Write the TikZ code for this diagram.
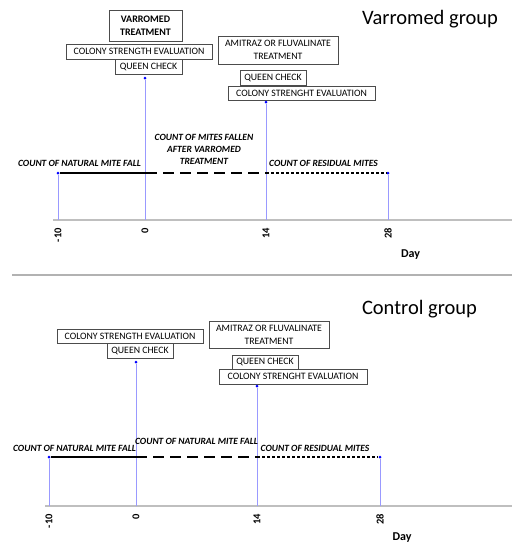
\documentclass[tikz,border=0pt]{standalone}
\usepackage{fontspec}
\setmainfont{Carlito}
\usepackage{tikz}

\tikzset{
  evbox/.style={draw=black!70,fill=white,inner sep=1.5pt,font=\fontsize{9.8}{13}\selectfont},
  countlbl/.style={inner sep=0pt,font=\fontsize{9.5}{12}\selectfont\bfseries\itshape,align=center},
  ticklbl/.style={rotate=90,anchor=east,inner sep=0pt,font=\fontsize{10.5}{11}\selectfont\bfseries},
  stem/.style={blue!40,line width=0.7pt},
  axisline/.style={black!25,line width=1.3pt},
  dot/.style={circle,fill=blue,inner sep=0pt,minimum size=3pt},
  longdash/.style={line width=1.6pt,dash pattern=on 11pt off 6pt,dash phase=11pt},
  shortdash/.style={line width=1.3pt,dash pattern=on 3pt off 2pt}
}

\begin{document}
\begin{tikzpicture}[x=1pt,y=-1pt]
  \useasboundingbox (0,0) rectangle (522,550);

  % ---------- Varromed group ----------
  \node[font=\fontsize{20.5}{22}\selectfont] (titleA) at (430,19) {Varromed group};

  \node[evbox,font=\fontsize{10}{13}\selectfont\bfseries,align=center,minimum width=73pt,minimum height=31pt] (varro) at (145.5,25.5) {VARROMED\\TREATMENT};
  \node[evbox,minimum width=146pt,minimum height=15pt] (csA) at (139,51.5) {COLONY STRENGTH EVALUATION};
  \node[evbox,minimum width=67pt,minimum height=15pt] (qcA) at (148.5,66.5) {QUEEN CHECK};
  \node[evbox,align=center,minimum width=120pt,minimum height=28pt] (amitA) at (278,50) {AMITRAZ OR FLUVALINATE\\TREATMENT};
  \node[evbox,minimum width=66pt,minimum height=15pt] (qcB) at (273,77.5) {QUEEN CHECK};
  \node[evbox,minimum width=147pt,minimum height=14pt] (csB) at (301.5,93) {COLONY STRENGHT EVALUATION};

  \coordinate (axA0) at (53,220);
  \coordinate (axA1) at (512,220);
  \node[dot] (pA0) at (145,78) {};
  \node[dot] (pA14) at (266,102) {};
  \node[dot] (pAm10) at (58,173) {};
  \node[dot] (pA28) at (388,173) {};
  \coordinate (sA) at (157,173);
  \coordinate (tA14) at (266,173);
  \foreach \n/\x in {m10/58,0/145,14/266,28/388} \coordinate (bA\n) at (\x,220);

  \draw[axisline] (axA0) -- (axA1);
  \draw[stem] (pAm10) -- (bAm10);
  \draw[stem] (pA0) -- (bA0);
  \draw[stem] (pA14) -- (bA14);
  \draw[stem] (pA28) -- (bA28);
  \draw[line width=1.6pt] (pAm10) -- (sA);
  \draw[longdash] (sA) -- (tA14);
  \draw[shortdash] (tA14) -- (pA28);

  \node[countlbl] (natA) at (79.5,163) {COUNT OF NATURAL MITE FALL};
  \node[countlbl] (fallA) at (204,149) {COUNT OF MITES FALLEN\\AFTER VARROMED\\TREATMENT};
  \node[countlbl] (resA) at (323.5,163) {COUNT OF RESIDUAL MITES};

  \node[ticklbl] at (58,228) {-10};
  \node[ticklbl] at (145,228) {0};
  \node[ticklbl] at (266,228) {14};
  \node[ticklbl] at (388,228) {28};
  \node[font=\fontsize{12}{13}\selectfont\bfseries] (dayA) at (410.5,255) {Day};

  % separator
  \coordinate (sep0) at (12,275);
  \coordinate (sep1) at (512,275);
  \draw[black!30,line width=1.2pt] (sep0) -- (sep1);

  % ---------- Control group ----------
  \node[font=\fontsize{20.5}{22}\selectfont] (titleB) at (419.5,309) {Control group};

  \node[evbox,minimum width=146pt,minimum height=14pt] (csC) at (130,336.5) {COLONY STRENGTH EVALUATION};
  \node[evbox,minimum width=66pt,minimum height=15pt] (qcC) at (140,350.5) {QUEEN CHECK};
  \node[evbox,align=center,minimum width=120pt,minimum height=27pt] (amitB) at (269,334.5) {AMITRAZ OR FLUVALINATE\\TREATMENT};
  \node[evbox,minimum width=66pt,minimum height=14pt] (qcD) at (265,362) {QUEEN CHECK};
  \node[evbox,minimum width=148pt,minimum height=15pt] (csD) at (293,376.5) {COLONY STRENGHT EVALUATION};

  \coordinate (axB0) at (45,506);
  \coordinate (axB1) at (512,506);
  \node[dot] (pB0) at (136,362) {};
  \node[dot] (pB14) at (257,386) {};
  \node[dot] (pBm10) at (49,457) {};
  \node[dot] (pB28) at (380,457) {};
  \coordinate (sB) at (147,457);
  \coordinate (tB14) at (257,457);
  \foreach \n/\x in {m10/49,0/136,14/257,28/380} \coordinate (bB\n) at (\x,506);

  \draw[axisline] (axB0) -- (axB1);
  \draw[stem] (pBm10) -- (bBm10);
  \draw[stem] (pB0) -- (bB0);
  \draw[stem] (pB14) -- (bB14);
  \draw[stem] (pB28) -- (bB28);
  \draw[line width=1.6pt] (pBm10) -- (sB);
  \draw[longdash] (sB) -- (tB14);
  \draw[shortdash] (tB14) -- (pB28);

  \node[countlbl] (natB) at (74.5,448) {COUNT OF NATURAL MITE FALL};
  \node[countlbl] (natC) at (196.5,441) {COUNT OF NATURAL MITE FALL};
  \node[countlbl] (resB) at (315,448) {COUNT OF RESIDUAL MITES};

  \node[ticklbl] at (49,514) {-10};
  \node[ticklbl] at (136,514) {0};
  \node[ticklbl] at (257,514) {14};
  \node[ticklbl] at (380,514) {28};
  \node[font=\fontsize{12}{13}\selectfont\bfseries] (dayB) at (402,538) {Day};
\end{tikzpicture}
\end{document}
